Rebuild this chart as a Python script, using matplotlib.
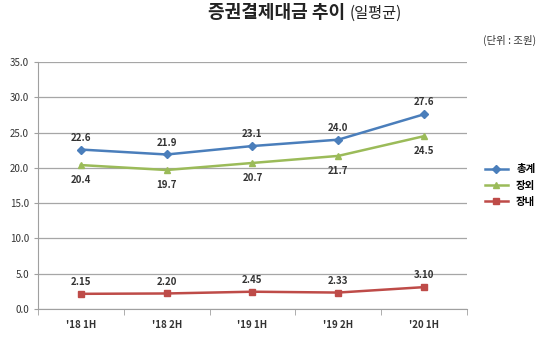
import numpy as np
import matplotlib
matplotlib.use("Agg")
import matplotlib.pyplot as plt

plt.rcParams['font.family'] = ['Noto Sans CJK KR', 'DejaVu Sans']

# half-year periods and daily average settlement amounts (trillion won)
periods = ["'18 1H", "'18 2H", "'19 1H", "'19 2H", "'20 1H"]
total = [22.6, 21.9, 23.1, 24.0, 27.6]
otc = [20.4, 19.7, 20.7, 21.7, 24.5]
exchange = [2.15, 2.20, 2.45, 2.33, 3.10]

blue = '#4a7ebb'
green = '#9bbb59'
red = '#be4b48'

fig = plt.figure(figsize=(5.5, 3.42), dpi=100)
ax = fig.add_axes([0.069, 0.0965, 0.78, 0.722])

x = np.arange(len(periods))
ax.plot(x, total, color=blue, lw=1.8, marker='D', ms=4, label='총계')
ax.plot(x, otc, color=green, lw=1.8, marker='^', ms=5, label='장외')
ax.plot(x, exchange, color=red, lw=1.8, marker='s', ms=5, label='장내')

lab_kw = dict(textcoords='offset points', ha='center', fontsize=7,
              fontweight='bold', color='#333333')
for xi, v in zip(x, total):
    ax.annotate(f'{v:.1f}', (xi, v), xytext=(0, 5), va='bottom', **lab_kw)
for xi, v in zip(x, otc):
    ax.annotate(f'{v:.1f}', (xi, v), xytext=(0, -7), va='top', **lab_kw)
for xi, v in zip(x, exchange):
    ax.annotate(f'{v:.2f}', (xi, v), xytext=(0, 5), va='bottom', **lab_kw)

ax.set_xlim(-0.5, len(periods) - 0.5)
ax.set_ylim(0, 35)
ax.set_yticks(np.arange(0, 35.1, 5))
ax.set_yticklabels([f'{v:.1f}' for v in np.arange(0, 35.1, 5)])
ax.set_xticks(x)
ax.set_xticklabels(periods)
ax.set_xticks(np.arange(-0.5, len(periods), 1), minor=True)
ax.tick_params(axis='x', which='major', length=0, pad=8, labelsize=7, labelcolor='#333333')
ax.tick_params(axis='x', which='minor', length=4, direction='out', color='#a0a0a0')
ax.tick_params(axis='y', length=3, color='#a0a0a0', labelsize=7, labelcolor='#333333')
for lab in ax.get_xticklabels():
    lab.set_fontweight('bold')

ax.grid(axis='y', color='#a6a6a6', lw=0.9)
ax.set_axisbelow(True)
for s in ['top', 'right']:
    ax.spines[s].set_visible(False)
for s in ['left', 'bottom']:
    ax.spines[s].set_color('#a0a0a0')

ax.legend(loc='center left', bbox_to_anchor=(1.02, 0.5), frameon=False,
          handlelength=2.2, labelspacing=0.6,
          prop={'weight': 'bold', 'size': 7.5})

fig.text(0.627, 0.962, '증권결제대금 추이', ha='right', va='center',
         fontsize=13, fontweight='bold', color='#222222')
fig.text(0.636, 0.962, '(일평균)', ha='left', va='center',
         fontsize=11, color='#222222')
fig.text(0.975, 0.883, '(단위 : 조원)', ha='right', va='center',
         fontsize=7.5, color='#333333')

fig.savefig('out.png', dpi=100)
